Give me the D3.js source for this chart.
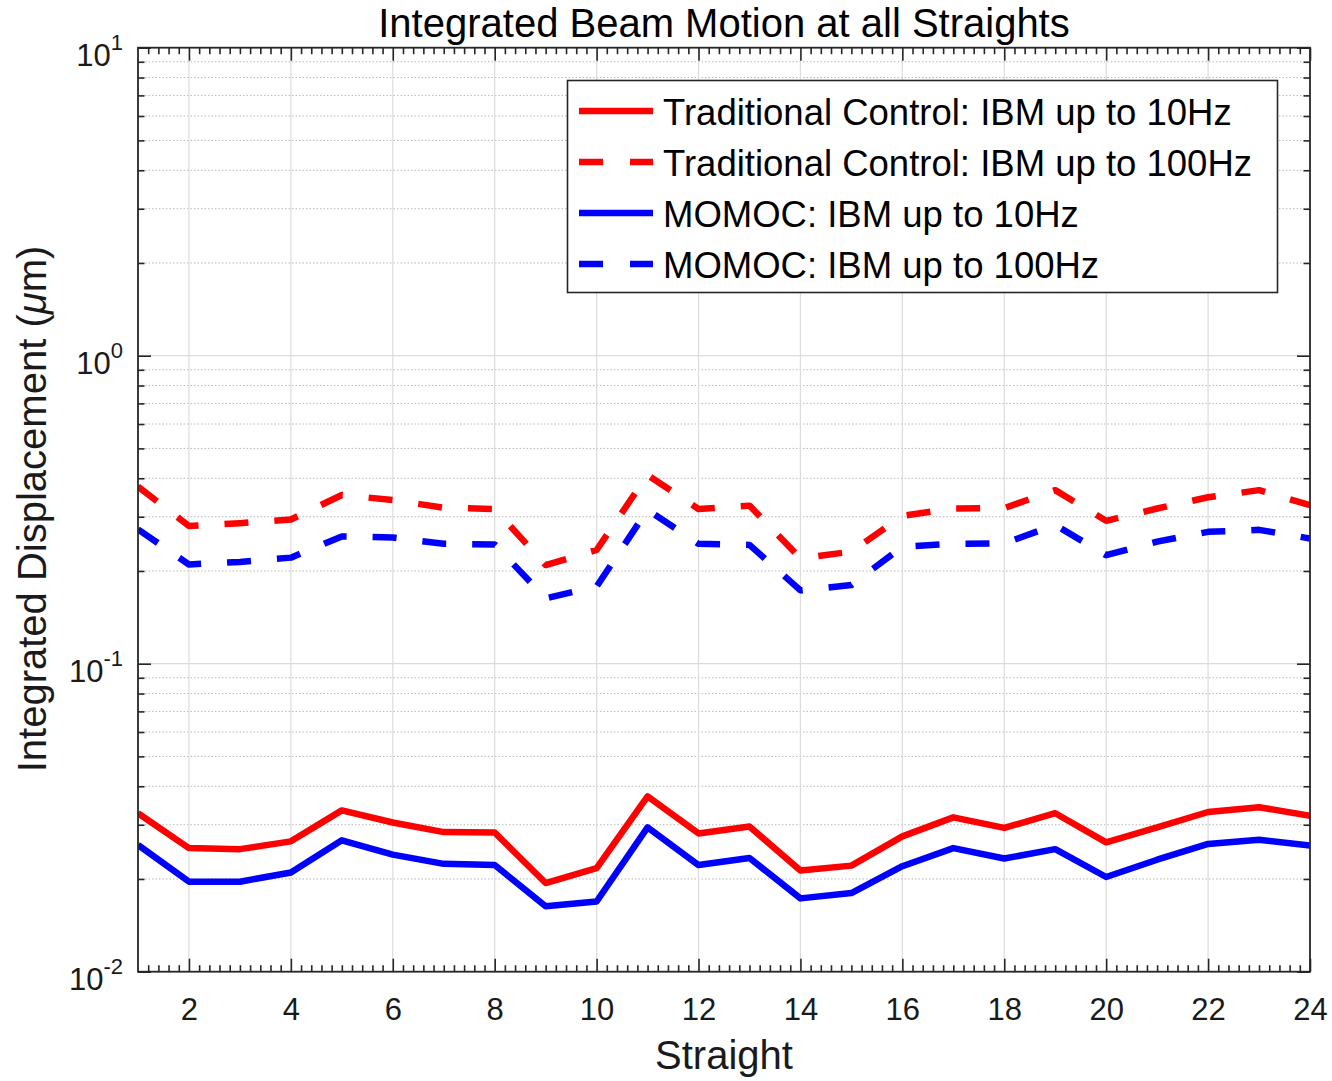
<!DOCTYPE html>
<html>
<head>
<meta charset="utf-8">
<script src="https://cdn.jsdelivr.net/npm/d3@7"></script>
<style>
  html, body { margin: 0; padding: 0; background: #fff; }
  svg { display: block; font-family: "Liberation Sans", Arial, Helvetica, sans-serif; }
</style>
</head>
<body>
<svg id="chart" width="1332" height="1081"></svg>
<script>
// ---------------- data ----------------
const straights = d3.range(1, 25);
const tradLow   = [0.0327,0.0252,0.0250,0.0265,0.0334,0.0305,0.0284,0.0283,0.0194,0.0217,0.0371,0.0281,0.0296,0.0213,0.0221,0.0275,0.0317,0.0293,0.0327,0.0263,0.0294,0.0330,0.0342,0.0321];
const tradHigh  = [0.376,0.280,0.286,0.294,0.353,0.340,0.321,0.318,0.209,0.234,0.410,0.318,0.326,0.220,0.231,0.302,0.319,0.320,0.366,0.291,0.319,0.347,0.366,0.327];
const momocLow  = [0.0258,0.0196,0.0196,0.0210,0.0267,0.0240,0.0224,0.0222,0.0163,0.0169,0.0294,0.0222,0.0234,0.0173,0.0180,0.0220,0.0252,0.0233,0.0250,0.0203,0.0231,0.0260,0.0268,0.0257];
const momocHigh = [0.273,0.210,0.214,0.221,0.259,0.257,0.245,0.244,0.163,0.178,0.316,0.245,0.243,0.173,0.180,0.240,0.245,0.246,0.282,0.225,0.249,0.268,0.272,0.255];

const seriesNames  = ["Traditional Control: IBM up to 10Hz", "Traditional Control: IBM up to 100Hz", "MOMOC: IBM up to 10Hz", "MOMOC: IBM up to 100Hz"];
const seriesValues = [tradLow, tradHigh, momocLow, momocHigh];
const seriesColors = ["#ff0000", "#ff0000", "#0000ff", "#0000ff"];
const seriesDashed = [false, true, false, true];

const xTicks = [2,4,6,8,10,12,14,16,18,20,22,24];
const yTicks = [0.01, 0.1, 1, 10];
const yTickExp = ["-2", "-1", "0", "1"];
const titleText = "Integrated Beam Motion at all Straights";
const xLabel = "Straight";

// ---------------- layout ----------------
const L = 138, R = 1310, T = 47.7, B = 971.7;
const svg = d3.select("#chart");
const x = d3.scaleLinear().domain([1, 24]).range([L, R]);
const y = d3.scaleLog().domain([0.01, 10]).range([B, T]);
const axisColor = "#262626";

// minor values
const xMinor = d3.range(1, 24.001, 0.2).map(v => +v.toFixed(1)).filter(v => !xTicks.includes(v) && v > 1 && v < 24);
const yMinor = [];
[0.01, 0.1, 1].forEach(d => { for (let m = 2; m <= 9; m++) yMinor.push(+(m * d).toFixed(4)); });

// background
svg.append("rect").attr("x", L).attr("y", T).attr("width", R - L).attr("height", B - T).attr("fill", "#fff");

// grid
const grid = svg.append("g");
grid.selectAll(".ymin").data(yMinor).join("line")
  .attr("x1", L).attr("x2", R).attr("y1", d => y(d)).attr("y2", d => y(d))
  .attr("stroke", "#b8b8b8").attr("stroke-width", 1).attr("stroke-dasharray", "1.5,2");
grid.selectAll(".ymaj").data([0.1, 1]).join("line")
  .attr("x1", L).attr("x2", R).attr("y1", d => y(d)).attr("y2", d => y(d))
  .attr("stroke", "#dcdcdc").attr("stroke-width", 1.2);
grid.selectAll(".xmaj").data(xTicks.filter(v => v < 24)).join("line")
  .attr("x1", d => x(d)).attr("x2", d => x(d)).attr("y1", T).attr("y2", B)
  .attr("stroke", "#dcdcdc").attr("stroke-width", 1.2);

// lines
svg.append("clipPath").attr("id", "clip").append("rect")
  .attr("x", L).attr("y", T).attr("width", R - L).attr("height", B - T);
const line = d3.line().x((d, i) => x(straights[i])).y(d => y(d));
const lines = svg.append("g").attr("clip-path", "url(#clip)");
seriesValues.forEach((vals, k) => {
  lines.append("path").datum(vals)
    .attr("d", line)
    .attr("fill", "none")
    .attr("stroke", seriesColors[k])
    .attr("stroke-width", 6.5)
    .attr("stroke-linejoin", "round")
    .attr("stroke-dasharray", seriesDashed[k] ? "24,26" : null);
});

// axes (ticks inward, MATLAB style)
function styleAxis(g) {
  g.select(".domain").remove();
  g.selectAll(".tick line").attr("stroke", axisColor).attr("stroke-width", 1.6);
}
svg.append("g").attr("transform", `translate(0,${B})`)
  .call(d3.axisBottom(x).tickValues(xTicks).tickSize(-13).tickSizeOuter(0).tickPadding(26).tickFormat(d3.format("d")))
  .call(styleAxis)
  .call(g => g.selectAll("text").attr("font-size", 31).attr("fill", "#1a1a1a")
    .attr("font-family", "'Liberation Sans', Arial, sans-serif"));
svg.append("g").attr("transform", `translate(0,${B})`)
  .call(d3.axisBottom(x).tickValues(xMinor).tickSize(-6.5).tickSizeOuter(0).tickFormat(""))
  .call(styleAxis);
svg.append("g").attr("transform", `translate(0,${T})`)
  .call(d3.axisTop(x).tickValues(xTicks).tickSize(-13).tickSizeOuter(0).tickFormat(""))
  .call(styleAxis);
svg.append("g").attr("transform", `translate(0,${T})`)
  .call(d3.axisTop(x).tickValues(xMinor).tickSize(-6.5).tickSizeOuter(0).tickFormat(""))
  .call(styleAxis);
svg.append("g").attr("transform", `translate(${L},0)`)
  .call(d3.axisLeft(y).tickValues(yTicks).tickSize(-13).tickSizeOuter(0).tickFormat(""))
  .call(styleAxis);
svg.append("g").attr("transform", `translate(${L},0)`)
  .call(d3.axisLeft(y).tickValues(yMinor).tickSize(-6.5).tickSizeOuter(0).tickFormat(""))
  .call(styleAxis);
svg.append("g").attr("transform", `translate(${R},0)`)
  .call(d3.axisRight(y).tickValues(yTicks).tickSize(-13).tickSizeOuter(0).tickFormat(""))
  .call(styleAxis);
svg.append("g").attr("transform", `translate(${R},0)`)
  .call(d3.axisRight(y).tickValues(yMinor).tickSize(-6.5).tickSizeOuter(0).tickFormat(""))
  .call(styleAxis);

// y tick labels with superscripts
const yl = svg.append("g").attr("fill", "#1a1a1a");
yTicks.forEach((v, i) => {
  const t = yl.append("text").attr("x", 123).attr("y", y(v) + 18)
    .attr("text-anchor", "end").attr("font-size", 31);
  t.append("tspan").text("10");
  t.append("tspan").attr("dy", -16).attr("font-size", 22).text(yTickExp[i]);
});

// frame
svg.append("rect").attr("x", L).attr("y", T).attr("width", R - L).attr("height", B - T)
  .attr("fill", "none").attr("stroke", axisColor).attr("stroke-width", 1.8);

// title and labels
svg.append("text").attr("x", (L + R) / 2).attr("y", 36.5).attr("text-anchor", "middle")
  .attr("font-size", 40).attr("fill", "#000").text(titleText);
svg.append("text").attr("x", (L + R) / 2).attr("y", 1069).attr("text-anchor", "middle")
  .attr("font-size", 40).attr("fill", "#1a1a1a").text(xLabel);
const ylab = svg.append("text").attr("transform", `translate(46,${(242 + 776) / 2}) rotate(-90)`)
  .attr("text-anchor", "middle").attr("font-size", 40).attr("fill", "#1a1a1a");
ylab.append("tspan").text("Integrated Displacement (");
ylab.append("tspan").attr("font-style", "italic").text("μ");
ylab.append("tspan").text("m)");

// legend
const lg = svg.append("g");
lg.append("rect").attr("x", 567.5).attr("y", 80.5).attr("width", 710).attr("height", 212)
  .attr("fill", "#fff").attr("stroke", axisColor).attr("stroke-width", 1.6);
const legY = d3.scalePoint().domain(d3.range(4)).range([111, 264]);
seriesNames.forEach((name, k) => {
  const cy = legY(k);
  lg.append("line").attr("x1", 579).attr("x2", 653).attr("y1", cy).attr("y2", cy)
    .attr("stroke", seriesColors[k]).attr("stroke-width", 6.5)
    .attr("stroke-dasharray", seriesDashed[k] ? "24,27" : null);
  lg.append("text").attr("x", 663).attr("y", cy + 13.5).attr("font-size", 36.5)
    .attr("fill", "#000").text(name);
});
</script>
</body>
</html>
